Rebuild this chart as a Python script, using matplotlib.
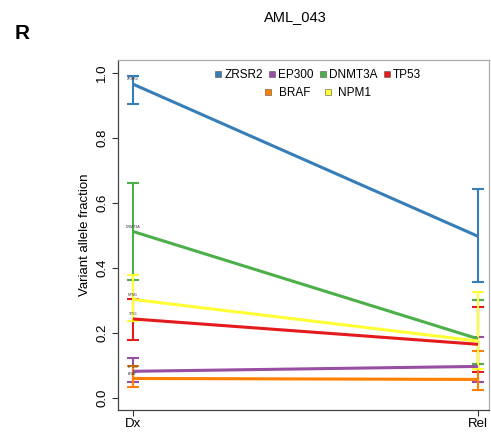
import numpy as np
import matplotlib.pyplot as plt
from matplotlib.lines import Line2D

plt.rcParams['font.family'] = ['Liberation Sans', 'DejaVu Sans']

# variant allele fractions at diagnosis (Dx) and relapse (Rel)
timepoints = ['Dx', 'Rel']
genes = ['ZRSR2', 'EP300', 'DNMT3A', 'TP53', 'BRAF', 'NPM1']
colors = ['#377EB8', '#984EA3', '#4DAF4A', '#E41A1C', '#FF7F00', '#FFFF33']

vaf_dx = [0.965, 0.082, 0.512, 0.243, 0.060, 0.303]
vaf_rel = [0.497, 0.097, 0.182, 0.165, 0.057, 0.175]

# confidence intervals (low, high)
ci_dx = [(0.905, 0.990), (0.050, 0.122), (0.362, 0.662),
         (0.178, 0.305), (0.035, 0.098), (0.237, 0.378)]
ci_rel = [(0.357, 0.642), (0.050, 0.188), (0.105, 0.300),
          (0.080, 0.280), (0.025, 0.145), (0.090, 0.325)]

fig = plt.figure(figsize=(4.91, 4.32), dpi=100)
ax = fig.add_axes([0.2403, 0.0509, 0.7557, 0.8102])

x = np.array([1, 2])
for g, c, d, r, cd, cr in zip(genes, colors, vaf_dx, vaf_rel, ci_dx, ci_rel):
    vals = np.array([d, r])
    lo = np.array([cd[0], cr[0]])
    hi = np.array([cd[1], cr[1]])
    ax.errorbar(x, vals, yerr=[vals - lo, hi - vals], fmt='none',
                ecolor=c, elinewidth=1.5, capsize=4, capthick=1.5, zorder=2)
    ax.plot(x, vals, color=c, lw=2.2, solid_capstyle='butt', zorder=3)
    ax.annotate(g, (1, d), xytext=(0, 2), textcoords='offset points',
                ha='center', va='bottom', fontsize=2.6, color='#333333',
                zorder=4)

ax.set_xlim(0.957, 2.032)
ax.set_ylim(-0.037, 1.039)
ax.set_xticks(x)
ax.set_xticklabels(timepoints, fontsize=9.5)
ax.set_yticks([0.0, 0.2, 0.4, 0.6, 0.8, 1.0])
ax.set_yticklabels(['0.0', '0.2', '0.4', '0.6', '0.8', '1.0'],
                   rotation=90, va='center', fontsize=9.5)
ax.tick_params(axis='both', length=4, width=0.8, color='#333333', pad=3)
ax.tick_params(axis='x', pad=1.5)
ax.set_ylabel('Variant allele fraction', fontsize=9.5, labelpad=4)

for side in ['left', 'bottom']:
    ax.spines[side].set_color('#444444')
    ax.spines[side].set_linewidth(0.9)
for side in ['top', 'right']:
    ax.spines[side].set_color('#aaaaaa')
    ax.spines[side].set_linewidth(0.9)

# legend in two rows: first four genes, then the remaining two
def handles(idx):
    return [Line2D([], [], ls='none', marker='s', markersize=4,
                   markerfacecolor=colors[i], markeredgecolor='#555555',
                   markeredgewidth=0.4, label=genes[i]) for i in idx]

leg1 = ax.legend(handles=handles([0, 1, 2, 3]), ncol=4, loc='center',
                 bbox_to_anchor=(0.539, 0.957), frameon=False, fontsize=8.5,
                 handlelength=0.6, handletextpad=0.2, columnspacing=0.5,
                 borderpad=0)
ax.add_artist(leg1)
ax.legend(handles=handles([4, 5]), ncol=2, loc='center',
          bbox_to_anchor=(0.539, 0.906), frameon=False, fontsize=8.5,
          handlelength=0.6, handletextpad=0.6, columnspacing=1.2, borderpad=0)

fig.text(0.601, 0.96, 'AML_043', ha='center', va='center', fontsize=10.5)
fig.text(0.045, 0.922, 'R', ha='center', va='center', fontsize=15,
         fontweight='bold')

plt.savefig('out.png', dpi=100)
